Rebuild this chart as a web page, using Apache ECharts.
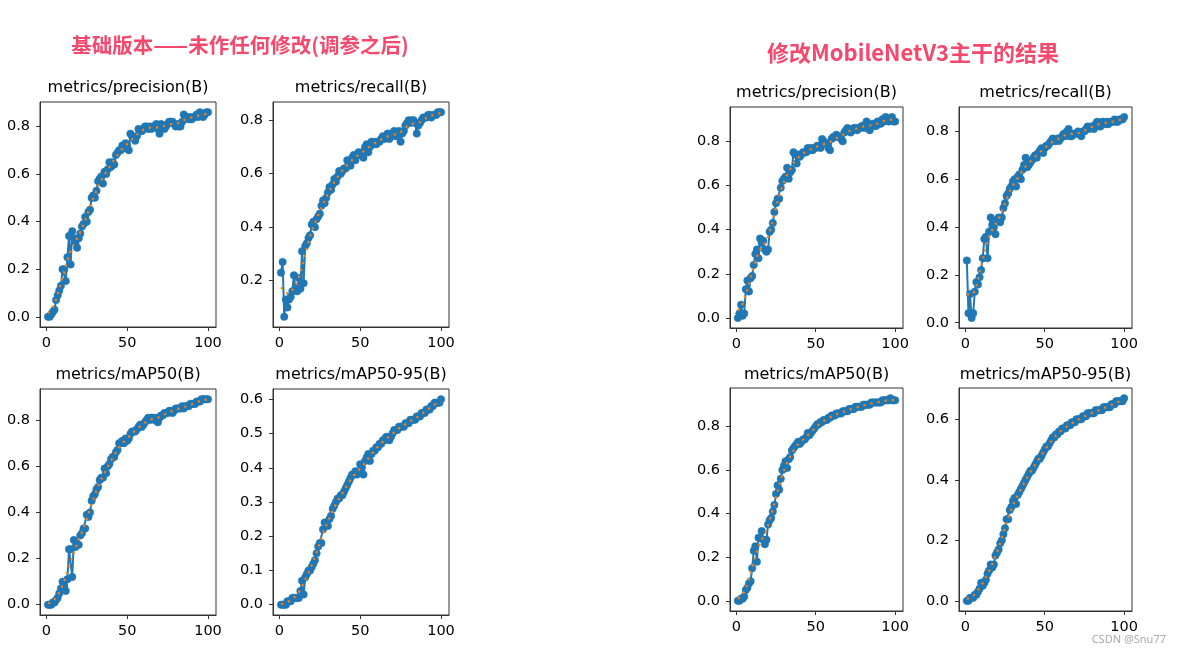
<!DOCTYPE html>
<html>
<head>
<meta charset="utf-8">
<title>metrics</title>
<script src="https://cdn.jsdelivr.net/npm/echarts@6.0.0/dist/echarts.min.js"></script>
<style>
    html, body {margin: 0; padding: 0; background: #fff;}
    #chart {width: 1181px; height: 654px;}
</style>
</head>
<body>
<div id="chart"></div>
<script>
    // epochs 1..100
    var epochs = [];
    for (var e = 1; e <= 100; e++) epochs.push(e);

    var xTicks = [0, 50, 100];

    // 基础版本
    var precisionA = [
        0.00, 0.00, 0.01, 0.02, 0.03, 0.07, 0.09, 0.11, 0.13, 0.20,
        0.20, 0.15, 0.25, 0.34, 0.22, 0.36, 0.33, 0.31, 0.29, 0.33,
        0.35, 0.38, 0.39, 0.42, 0.40, 0.44, 0.45, 0.50, 0.51, 0.50,
        0.53, 0.57, 0.58, 0.59, 0.56, 0.61, 0.60, 0.62, 0.65, 0.63,
        0.65, 0.64, 0.68, 0.69, 0.70, 0.70, 0.72, 0.71, 0.73, 0.72,
        0.70, 0.77, 0.76, 0.75, 0.74, 0.76, 0.79, 0.78, 0.78, 0.79,
        0.80, 0.80, 0.79, 0.80, 0.79, 0.80, 0.80, 0.81, 0.79, 0.77,
        0.81, 0.80, 0.79, 0.80, 0.81, 0.82, 0.82, 0.82, 0.81, 0.80,
        0.81, 0.80, 0.80, 0.82, 0.85, 0.84, 0.84, 0.83, 0.84, 0.83,
        0.84, 0.84, 0.85, 0.84, 0.86, 0.85, 0.84, 0.85, 0.86, 0.86
    ];
    var recallA = [
        0.23, 0.27, 0.065, 0.13, 0.10, 0.13, 0.14, 0.16, 0.22, 0.17,
        0.16, 0.21, 0.17, 0.31, 0.19, 0.33, 0.34, 0.36, 0.37, 0.41,
        0.42, 0.40, 0.43, 0.44, 0.45, 0.48, 0.50, 0.49, 0.51, 0.53,
        0.55, 0.54, 0.56, 0.58, 0.57, 0.59, 0.61, 0.60, 0.61, 0.62,
        0.62, 0.65, 0.64, 0.63, 0.66, 0.67, 0.65, 0.67, 0.68, 0.67,
        0.68, 0.66, 0.70, 0.71, 0.68, 0.70, 0.72, 0.71, 0.72, 0.71,
        0.72, 0.72, 0.73, 0.74, 0.73, 0.74, 0.75, 0.73, 0.74, 0.75,
        0.76, 0.74, 0.75, 0.76, 0.72, 0.75, 0.76, 0.78, 0.79, 0.80,
        0.79, 0.80, 0.80, 0.79, 0.75, 0.78, 0.79, 0.80, 0.81, 0.81,
        0.81, 0.82, 0.82, 0.81, 0.82, 0.82, 0.82, 0.83, 0.83, 0.83
    ];
    var map50A = [
        0.00, 0.00, 0.00, 0.01, 0.01, 0.02, 0.03, 0.05, 0.07, 0.10,
        0.08, 0.06, 0.11, 0.24, 0.24, 0.12, 0.28, 0.25, 0.26, 0.26,
        0.30, 0.31, 0.33, 0.33, 0.39, 0.38, 0.40, 0.45, 0.47, 0.48,
        0.50, 0.51, 0.54, 0.55, 0.55, 0.59, 0.57, 0.60, 0.61, 0.63,
        0.64, 0.64, 0.66, 0.67, 0.70, 0.70, 0.71, 0.70, 0.72, 0.71,
        0.72, 0.74, 0.75, 0.75, 0.75, 0.76, 0.77, 0.78, 0.77, 0.78,
        0.79, 0.80, 0.81, 0.80, 0.81, 0.81, 0.80, 0.81, 0.79, 0.81,
        0.82, 0.82, 0.83, 0.83, 0.83, 0.84, 0.84, 0.83, 0.84, 0.85,
        0.85, 0.85, 0.85, 0.86, 0.85, 0.86, 0.86, 0.86, 0.87, 0.87,
        0.87, 0.87, 0.88, 0.88, 0.88, 0.89, 0.89, 0.89, 0.89, 0.89
    ];
    var map5095A = [
        0.00, 0.00, 0.00, 0.00, 0.01, 0.01, 0.01, 0.02, 0.02, 0.02,
        0.02, 0.02, 0.04, 0.07, 0.03, 0.08, 0.09, 0.10, 0.10, 0.11,
        0.12, 0.13, 0.15, 0.17, 0.18, 0.18, 0.22, 0.24, 0.24, 0.23,
        0.25, 0.26, 0.28, 0.29, 0.30, 0.31, 0.31, 0.32, 0.32, 0.33,
        0.34, 0.35, 0.36, 0.37, 0.38, 0.38, 0.39, 0.38, 0.39, 0.41,
        0.40, 0.38, 0.42, 0.43, 0.44, 0.42, 0.44, 0.45, 0.45, 0.46,
        0.46, 0.47, 0.47, 0.48, 0.48, 0.49, 0.49, 0.48, 0.49, 0.50,
        0.51, 0.51, 0.51, 0.52, 0.52, 0.52, 0.52, 0.53, 0.53, 0.53,
        0.54, 0.54, 0.54, 0.54, 0.55, 0.55, 0.55, 0.56, 0.56, 0.56,
        0.57, 0.57, 0.57, 0.58, 0.58, 0.59, 0.59, 0.59, 0.59, 0.60
    ];

    // 修改MobileNetV3主干
    var precisionB = [
        0.00, 0.02, 0.06, 0.01, 0.02, 0.13, 0.17, 0.12, 0.18, 0.19,
        0.24, 0.29, 0.31, 0.27, 0.36, 0.34, 0.35, 0.31, 0.30, 0.31,
        0.39, 0.40, 0.43, 0.48, 0.52, 0.54, 0.54, 0.59, 0.62, 0.63,
        0.64, 0.68, 0.63, 0.66, 0.67, 0.75, 0.74, 0.70, 0.74, 0.73,
        0.74, 0.75, 0.75, 0.75, 0.77, 0.76, 0.77, 0.76, 0.77, 0.77,
        0.78, 0.78, 0.77, 0.81, 0.80, 0.79, 0.79, 0.77, 0.76, 0.81,
        0.82, 0.82, 0.83, 0.82, 0.82, 0.81, 0.80, 0.84, 0.85, 0.86,
        0.85, 0.84, 0.85, 0.86, 0.86, 0.85, 0.86, 0.86, 0.87, 0.87,
        0.86, 0.89, 0.88, 0.85, 0.87, 0.88, 0.87, 0.87, 0.89, 0.88,
        0.88, 0.90, 0.89, 0.91, 0.90, 0.89, 0.90, 0.91, 0.89, 0.89
    ];
    var recallB = [
        0.26, 0.04, 0.12, 0.02, 0.04, 0.13, 0.17, 0.16, 0.19, 0.22,
        0.27, 0.35, 0.36, 0.27, 0.38, 0.44, 0.41, 0.40, 0.37, 0.43,
        0.44, 0.42, 0.44, 0.48, 0.50, 0.53, 0.54, 0.56, 0.57, 0.59,
        0.60, 0.57, 0.61, 0.62, 0.60, 0.64, 0.66, 0.69, 0.65, 0.66,
        0.67, 0.68, 0.69, 0.70, 0.69, 0.71, 0.72, 0.73, 0.71, 0.73,
        0.74, 0.74, 0.75, 0.76, 0.77, 0.76, 0.76, 0.77, 0.76, 0.77,
        0.78, 0.79, 0.78, 0.80, 0.81, 0.78, 0.78, 0.79, 0.79, 0.79,
        0.80, 0.79, 0.78, 0.80, 0.80, 0.81, 0.82, 0.81, 0.82, 0.82,
        0.81, 0.83, 0.84, 0.83, 0.82, 0.84, 0.84, 0.83, 0.84, 0.83,
        0.84, 0.84, 0.84, 0.85, 0.84, 0.84, 0.85, 0.85, 0.85, 0.86
    ];
    var map50B = [
        0.00, 0.00, 0.01, 0.01, 0.02, 0.05, 0.06, 0.08, 0.09, 0.15,
        0.23, 0.25, 0.18, 0.29, 0.29, 0.32, 0.28, 0.26, 0.28, 0.35,
        0.37, 0.38, 0.41, 0.44, 0.49, 0.53, 0.51, 0.56, 0.60, 0.62,
        0.64, 0.61, 0.65, 0.66, 0.69, 0.70, 0.71, 0.72, 0.73, 0.72,
        0.73, 0.74, 0.74, 0.75, 0.77, 0.76, 0.77, 0.78, 0.79, 0.80,
        0.81, 0.81, 0.82, 0.82, 0.83, 0.83, 0.83, 0.84, 0.84, 0.85,
        0.85, 0.85, 0.86, 0.86, 0.86, 0.86, 0.87, 0.87, 0.87, 0.87,
        0.88, 0.88, 0.88, 0.88, 0.89, 0.89, 0.89, 0.89, 0.89, 0.90,
        0.90, 0.90, 0.90, 0.90, 0.91, 0.91, 0.91, 0.91, 0.91, 0.91,
        0.91, 0.92, 0.92, 0.92, 0.92, 0.92, 0.93, 0.92, 0.92, 0.92
    ];
    var map5095B = [
        0.00, 0.00, 0.01, 0.01, 0.01, 0.02, 0.02, 0.03, 0.04, 0.06,
        0.05, 0.06, 0.07, 0.09, 0.10, 0.12, 0.11, 0.12, 0.15, 0.16,
        0.17, 0.19, 0.20, 0.22, 0.24, 0.27, 0.27, 0.30, 0.31, 0.33,
        0.34, 0.32, 0.35, 0.36, 0.37, 0.38, 0.39, 0.40, 0.41, 0.42,
        0.43, 0.43, 0.44, 0.45, 0.46, 0.47, 0.47, 0.48, 0.49, 0.50,
        0.51, 0.51, 0.52, 0.53, 0.54, 0.54, 0.55, 0.55, 0.56, 0.56,
        0.57, 0.57, 0.57, 0.58, 0.58, 0.58, 0.59, 0.59, 0.59, 0.60,
        0.60, 0.60, 0.60, 0.61, 0.61, 0.61, 0.62, 0.62, 0.62, 0.62,
        0.62, 0.63, 0.63, 0.63, 0.63, 0.63, 0.64, 0.64, 0.64, 0.64,
        0.64, 0.65, 0.65, 0.65, 0.66, 0.66, 0.66, 0.66, 0.66, 0.67
    ];

    var yTicksPrecisionA = [0.0, 0.2, 0.4, 0.6, 0.8];
    var yTicksRecallA = [0.2, 0.4, 0.6, 0.8];
    var yTicksMap50A = [0.0, 0.2, 0.4, 0.6, 0.8];
    var yTicksMap5095A = [0.0, 0.1, 0.2, 0.3, 0.4, 0.5, 0.6];
    var yTicksPrecisionB = [0.0, 0.2, 0.4, 0.6, 0.8];
    var yTicksRecallB = [0.0, 0.2, 0.4, 0.6, 0.8];
    var yTicksMap50B = [0.0, 0.2, 0.4, 0.6, 0.8];
    var yTicksMap5095B = [0.0, 0.2, 0.4, 0.6];

    var panels = [
        {title: 'metrics/precision(B)', data: precisionA, ticks: yTicksPrecisionA, box: [40, 102, 176, 225], titleY: 88},
        {title: 'metrics/recall(B)', data: recallA, ticks: yTicksRecallA, box: [273, 102, 176, 225], titleY: 88},
        {title: 'metrics/mAP50(B)', data: map50A, ticks: yTicksMap50A, box: [40, 389, 176, 226], titleY: 375},
        {title: 'metrics/mAP50-95(B)', data: map5095A, ticks: yTicksMap5095A, box: [273, 389, 176, 226], titleY: 375},
        {title: 'metrics/precision(B)', data: precisionB, ticks: yTicksPrecisionB, box: [730, 107, 173, 221], titleY: 93},
        {title: 'metrics/recall(B)', data: recallB, ticks: yTicksRecallB, box: [959, 107, 173, 221], titleY: 93},
        {title: 'metrics/mAP50(B)', data: map50B, ticks: yTicksMap50B, box: [730, 388, 173, 223], titleY: 375},
        {title: 'metrics/mAP50-95(B)', data: map5095B, ticks: yTicksMap5095B, box: [959, 388, 173, 223], titleY: 375}
    ];

    // same smoothing as the training plot (gaussian, sigma 3, reflect)
    function gaussSmooth(arr, sigma) {
        var r = Math.round(4 * sigma), w = [], s = 0, n = arr.length;
        for (var k = -r; k <= r; k++) {
            var v = Math.exp(-0.5 * k * k / (sigma * sigma));
            w.push(v);
            s += v;
        }
        return arr.map(function (_, i) {
            var acc = 0;
            for (var k = -r; k <= r; k++) {
                var j = i + k;
                if (j < 0) j = -j - 1;
                if (j >= n) j = 2 * n - j - 1;
                acc += arr[j] * w[k + r];
            }
            return acc / s;
        });
    }

    function pairs(ys) {
        return ys.map(function (y, i) { return [epochs[i], y]; });
    }

    // matplotlib style 5% margins
    function extent(vals) {
        var lo = Math.min.apply(null, vals), hi = Math.max.apply(null, vals);
        var m = (hi - lo) * 0.05;
        return [lo - m, hi + m];
    }

    var FONT = '"DejaVu Sans", sans-serif';
    var grid = [], xAxis = [], yAxis = [], series = [];
    var graphic = [
        {type: 'text', x: 240, y: 45, style: {text: '基础版本——未作任何修改(调参之后)', fill: '#f4486d',
            font: 'bold 20.5px "Noto Sans CJK SC"', textAlign: 'center', textVerticalAlign: 'middle'}},
        {type: 'text', x: 913, y: 53, style: {text: '修改MobileNetV3主干的结果', fill: '#f4486d',
            font: 'bold 22px "Noto Sans CJK SC"', textAlign: 'center', textVerticalAlign: 'middle'}},
        {type: 'text', x: 1166, y: 640, style: {text: 'CSDN @Snu77', fill: '#aaaaaa',
            font: '11px "Noto Sans", sans-serif', textAlign: 'right', textVerticalAlign: 'middle'}}
    ];

    var xr = extent(epochs);

    panels.forEach(function (p, i) {
        var smooth = gaussSmooth(p.data, 3);
        var yr = extent(p.data.concat(smooth));
        var b = p.box;

        grid.push({left: b[0], top: b[1], width: b[2], height: b[3], show: true,
            borderColor: '#333', borderWidth: 1, backgroundColor: '#fff'});

        xAxis.push({
            type: 'value', gridIndex: i, min: xr[0], max: xr[1],
            splitLine: {show: false},
            axisLine: {show: true, onZero: false, lineStyle: {color: '#333', width: 1}},
            axisTick: {show: true, length: 4, customValues: xTicks, lineStyle: {color: '#333'}},
            axisLabel: {customValues: xTicks, color: '#000', fontSize: 14.5, fontFamily: FONT, margin: 9}
        });

        yAxis.push({
            type: 'value', gridIndex: i, min: yr[0], max: yr[1],
            splitLine: {show: false},
            axisLine: {show: true, onZero: false, lineStyle: {color: '#333', width: 1}},
            axisTick: {show: true, length: 4, customValues: p.ticks, lineStyle: {color: '#333'}},
            axisLabel: {customValues: p.ticks, color: '#000', fontSize: 14.5, fontFamily: FONT, margin: 10,
                formatter: function (v) { return v.toFixed(1); }}
        });

        series.push({
            type: 'line', xAxisIndex: i, yAxisIndex: i, data: pairs(p.data), z: 2,
            symbol: 'circle', symbolSize: 7.5, showSymbol: true, clip: false,
            itemStyle: {color: '#1f77b4', borderColor: 'rgba(31,119,180,0.45)', borderWidth: 1},
            lineStyle: {color: '#1f77b4', width: 2},
            animation: false
        });
        series.push({
            type: 'line', xAxisIndex: i, yAxisIndex: i, data: pairs(smooth), z: 5,
            symbol: 'none', smooth: false,
            lineStyle: {color: '#ff7f0e', width: 2.2, type: [2.2, 5]},
            animation: false
        });

        graphic.push({type: 'text', x: b[0] + b[2] / 2, y: p.titleY,
            style: {text: p.title, fill: '#000', font: '16px ' + FONT,
                textAlign: 'center', textVerticalAlign: 'middle'}});
    });

    var myChart = echarts.init(document.getElementById('chart'));
    myChart.setOption({
        backgroundColor: '#fff',
        animation: false,
        grid: grid,
        xAxis: xAxis,
        yAxis: yAxis,
        series: series,
        graphic: graphic
    });
</script>
</body>
</html>
